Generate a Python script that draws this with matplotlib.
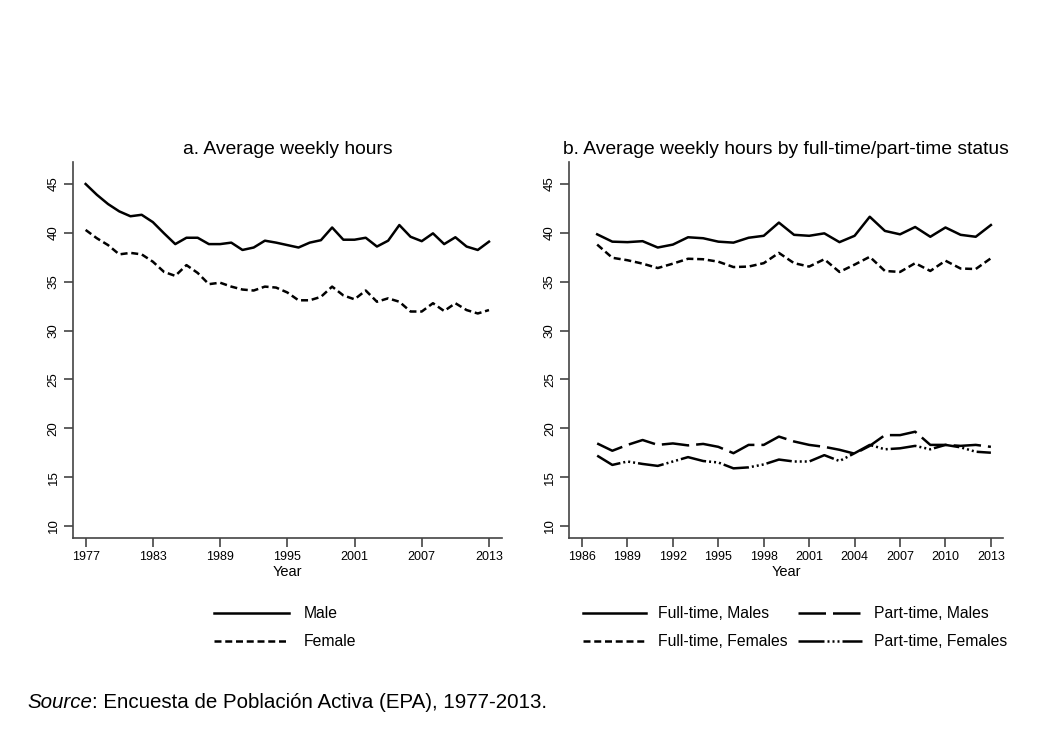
"""Average weekly hours, EPA 1977-2013."""

import matplotlib
matplotlib.use('Agg')
import matplotlib.pyplot as plt
import numpy as np


plt.rcParams['font.family'] = ['Liberation Sans', 'DejaVu Sans']


# ================================ DATA ======================================

years_a = np.arange(1977, 2014)

male = [45.0, 43.9, 42.95, 42.2, 41.7, 41.85, 41.1, 39.95, 38.85, 39.5,
        39.5, 38.85, 38.85, 39.0, 38.25, 38.5, 39.2, 39.0, 38.75, 38.5,
        39.0, 39.25, 40.55, 39.3, 39.3, 39.5, 38.6, 39.2, 40.8, 39.6,
        39.15, 39.95, 38.85, 39.55, 38.6, 38.25, 39.1]

female = [40.3, 39.45, 38.75, 37.8, 37.95, 37.8, 37.05, 36.0, 35.6, 36.7,
          35.9, 34.75, 34.9, 34.5, 34.2, 34.1, 34.5, 34.4, 33.9, 33.1,
          33.1, 33.45, 34.5, 33.6, 33.2, 34.1, 32.95, 33.3, 32.95, 31.95,
          31.95, 32.8, 32.0, 32.8, 32.1, 31.75, 32.1]

years_b = np.arange(1987, 2014)

ft_males = [39.85, 39.1, 39.05, 39.15, 38.5, 38.8, 39.55, 39.45, 39.1, 39.0,
            39.5, 39.7, 41.05, 39.8, 39.7, 39.95, 39.05, 39.7, 41.65, 40.2,
            39.85, 40.6, 39.6, 40.55, 39.8, 39.6, 40.8]

ft_females = [38.8, 37.45, 37.2, 36.85, 36.4, 36.85, 37.35, 37.3, 37.05, 36.5,
              36.55, 36.9, 37.95, 36.9, 36.55, 37.3, 36.0, 36.75, 37.55, 36.1,
              36.0, 36.9, 36.1, 37.15, 36.35, 36.3, 37.4]

pt_males = [18.45, 17.7, 18.3, 18.8, 18.3, 18.45, 18.25, 18.4, 18.1, 17.45,
            18.3, 18.3, 19.15, 18.65, 18.3, 18.1, 17.8, 17.4, 18.2, 19.3,
            19.3, 19.65, 18.3, 18.3, 18.2, 18.3, 18.1]

pt_females = [17.2, 16.25, 16.6, 16.35, 16.15, 16.6, 17.05, 16.65, 16.5, 15.9,
              16.0, 16.3, 16.8, 16.6, 16.6, 17.25, 16.65, 17.45, 18.3, 17.85,
              17.95, 18.2, 17.85, 18.3, 18.05, 17.6, 17.5]

ticks_a = np.arange(1977, 2014, 6)
ticks_b = np.arange(1986, 2014, 3)
ticks_y = np.arange(10, 46, 5)


# ================================ STYLE =====================================

lw = 1.8
axis_color = '#444444'

style_solid = dict(color='black', lw=lw, linestyle='-')
style_dash = dict(color='black', lw=lw, linestyle=(0, (2.8, 1.5)))
style_long = dict(color='black', lw=lw, linestyle=(0, (11, 2.8)))
style_dashdot = dict(color='black', lw=lw,
                     linestyle=(0, (10.4, 1.2, 0.8, 1.2, 0.8, 1.2, 0.8, 1.2)))


def setup(ax, xticks, xlim, title):
    ax.set_xlim(*xlim)
    ax.set_ylim(8.77, 47.25)
    ax.set_xticks(xticks)
    ax.set_yticks(ticks_y)
    ax.spines['top'].set_visible(False)
    ax.spines['right'].set_visible(False)
    for s in ('left', 'bottom'):
        ax.spines[s].set_color(axis_color)
        ax.spines[s].set_linewidth(1.2)
    ax.tick_params(direction='out', length=6.5, width=1.2, color=axis_color,
                   labelsize=9, pad=3)
    ax.tick_params(axis='y', pad=3, labelsize=9.5)
    for lab in ax.get_yticklabels():
        lab.set_rotation(90)
        lab.set_va('center')
    ax.set_xlabel('Year', fontsize=10.5, labelpad=1)
    ax.set_title(title, fontsize=13.9, pad=6)


fig = plt.figure(figsize=(10.41, 7.55), dpi=100)

ax_a = fig.add_axes([0.0701, 0.2874, 0.4121, 0.4980])
ax_b = fig.add_axes([0.5466, 0.2874, 0.4169, 0.4980])


# Panel a --------------------------------------------------------------------

la1, = ax_a.plot(years_a, male, **style_solid)
la2, = ax_a.plot(years_a, female, **style_dash)
setup(ax_a, ticks_a, (1975.87, 2014.16), 'a. Average weekly hours')


# Panel b --------------------------------------------------------------------

lb1, = ax_b.plot(years_b, ft_males, **style_solid)
lb2, = ax_b.plot(years_b, ft_females, **style_dash)
lb3, = ax_b.plot(years_b, pt_males, **style_long)
lb4, = ax_b.plot(years_b, pt_females, **style_dashdot)
setup(ax_b, ticks_b, (1985.14, 2013.8),
      'b. Average weekly hours by full-time/part-time status')


# ================================ LEGENDS ===================================

leg_top = 1 - 606 / 755
leg_kw = dict(loc='upper left', frameon=False, fontsize=11.3, borderpad=0,
              borderaxespad=0, labelspacing=0.85)

fig.legend([la1, la2], ['Male', 'Female'], handlelength=4.78,
           handletextpad=0.95, bbox_to_anchor=(214 / 1041, leg_top), **leg_kw)
fig.legend([lb1, lb2], ['Full-time, Males', 'Full-time, Females'],
           handlelength=4.0, handletextpad=0.76,
           bbox_to_anchor=(583 / 1041, leg_top), **leg_kw)
fig.legend([lb3, lb4], ['Part-time, Males', 'Part-time, Females'],
           handlelength=4.08, handletextpad=0.76,
           bbox_to_anchor=(798 / 1041, leg_top), **leg_kw)


# ================================ SOURCE ====================================

t1 = fig.text(27 / 1041, 1 - 712 / 755, 'Source', fontsize=14.8,
              style='italic', va='bottom', ha='left')
plt.annotate(': Encuesta de Población Activa (EPA), 1977-2013.', xy=(1, 0),
             xycoords=t1, va='bottom', ha='left', fontsize=14.8,
             annotation_clip=False)


fig.savefig('out.png', dpi=100, facecolor='white')
